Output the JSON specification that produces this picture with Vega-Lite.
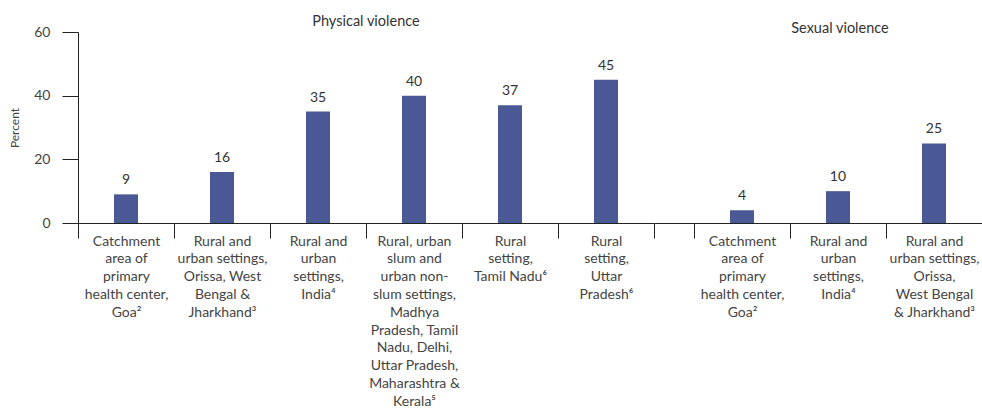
{
  "$schema": "https://vega.github.io/schema/vega-lite/v6.json",
  "background": "white",
  "padding": {"left": 8, "top": 13, "right": 0, "bottom": 0},
  "spacing": 0,
  "bounds": "flush",
  "config": {
    "view": {"stroke": null},
    "font": "Lato",
    "title": {"fontSize": 14.5, "fontWeight": "normal", "color": "#333333", "font": "Lato", "offset": -4},
    "axis": {"domainColor": "#222222", "tickColor": "#222222", "labelColor": "#444444", "titleColor": "#444444", "labelFont": "Lato", "titleFont": "Lato", "grid": false, "labelLineHeight": 17.8}
  },
  "datasets": {
    "phys": [
      {"cat": "Catchment|area of|primary|health center,|Goa²", "value": 9},
      {"cat": "Rural and|urban settings,|Orissa, West|Bengal &|Jharkhand³", "value": 16},
      {"cat": "Rural and|urban|settings,|India⁴", "value": 35},
      {"cat": "Rural, urban|slum and|urban non-|slum settings,|Madhya|Pradesh, Tamil|Nadu, Delhi,|Uttar Pradesh,|Maharashtra &|Kerala⁵", "value": 40},
      {"cat": "Rural|setting,|Tamil Nadu⁶", "value": 37},
      {"cat": "Rural|setting,|Uttar|Pradesh⁶", "value": 45}
    ],
    "sex": [
      {"cat": "Catchment|area of|primary|health center,|Goa²", "value": 4},
      {"cat": "Rural and|urban|settings,|India⁴", "value": 10},
      {"cat": "Rural and|urban settings,|Orissa,|West Bengal|& Jharkhand³", "value": 25}
    ]
  },
  "hconcat": [
    {
      "width": 576,
      "height": 191,
      "title": {"text": "Physical violence"},
      "data": {"name": "phys"},
      "encoding": {
        "x": {
          "field": "cat", "type": "nominal", "sort": null,
          "scale": {"paddingInner": 0, "paddingOuter": 0},
          "axis": {"title": null, "tickBand": "extent", "tickSize": 15, "labelPadding": -4, "labelAngle": 0, "labelExpr": "split(datum.label, '|')", "labelLineHeight": 17.8, "labelFontSize": 14, "labelOverlap": false, "labelBaseline": "top", "labelLimit": 300, "encode": {"labels": {"update": {"lineHeight": {"value": 17.8}}}}}
        },
        "y": {
          "field": "value", "type": "quantitative",
          "scale": {"domain": [0, 60]},
          "axis": {"title": "Percent", "values": [0, 20, 40, 60], "tickSize": 16, "labelPadding": 12, "labelFontSize": 14, "titleFontSize": 12, "titleFontWeight": "normal", "titlePadding": 12}
        }
      },
      "layer": [
        {"mark": {"type": "bar", "size": 24, "color": "#4a5895"}},
        {"mark": {"type": "text", "baseline": "bottom", "dy": -7, "fontSize": 14, "color": "#333333", "font": "Lato"}, "encoding": {"text": {"field": "value", "type": "quantitative"}}}
      ]
    },
    {
      "width": 328,
      "height": 191,
      "title": {"text": "Sexual violence", "dx": 22},
      "data": {"name": "sex"},
      "encoding": {
        "x": {
          "field": "cat", "type": "nominal", "sort": null,
          "scale": {"paddingInner": 0, "paddingOuter": 0.2083, "align": 1},
          "axis": {"title": null, "tickBand": "extent", "tickSize": 15, "labelPadding": -4, "labelAngle": 0, "labelExpr": "split(datum.label, '|')", "labelLineHeight": 17.8, "labelFontSize": 14, "labelOverlap": false, "labelBaseline": "top", "labelLimit": 300, "encode": {"labels": {"update": {"lineHeight": {"value": 17.8}}}}}
        },
        "y": {
          "field": "value", "type": "quantitative",
          "scale": {"domain": [0, 60]},
          "axis": null
        }
      },
      "layer": [
        {"mark": {"type": "bar", "size": 24, "color": "#4a5895"}},
        {"mark": {"type": "text", "baseline": "bottom", "dy": -7, "fontSize": 14, "color": "#333333", "font": "Lato"}, "encoding": {"text": {"field": "value", "type": "quantitative"}}}
      ]
    }
  ]
}
